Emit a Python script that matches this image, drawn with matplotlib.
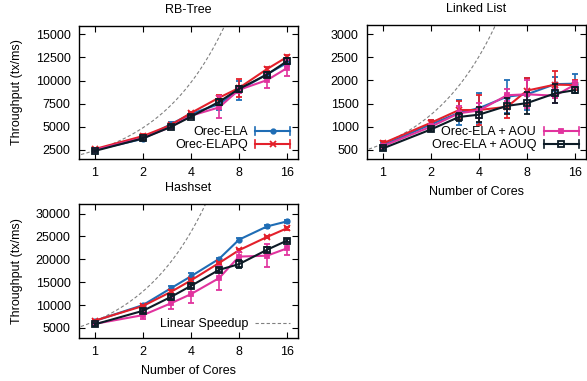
import numpy as np
import matplotlib
matplotlib.use("Agg")
import matplotlib.pyplot as plt
from matplotlib.legend_handler import HandlerBase
from matplotlib.lines import Line2D

plt.rcParams['font.family'] = ['Liberation Sans', 'DejaVu Sans']
plt.rcParams['font.size'] = 9

cores = [1, 2, 3, 4, 6, 8, 12, 16]

# RB-Tree
rb_ela = [2500, 3700, 5300, 6400, 7450, 8950, 10700, 11900]
rb_ela_err = [150, 250, 200, 200, 600, 1000, 300, 300]
rb_elapq = [2600, 4000, 5200, 6500, 8150, 9200, 11250, 12550]
rb_elapq_err = [100, 200, 150, 150, 250, 1000, 250, 250]
rb_aou = [2500, 3800, 5000, 6200, 7100, 9000, 10050, 11350]
rb_aou_err = [150, 150, 200, 200, 1200, 300, 800, 900]
rb_aouq = [2400, 3750, 5000, 6100, 7700, 9100, 10650, 12100]
rb_aouq_err = [100, 150, 150, 150, 300, 300, 300, 300]

# Linked List
ll_ela = [600, 1050, 1300, 1400, 1650, 1700, 1920, 1930]
ll_ela_err = [40, 100, 270, 330, 360, 350, 150, 200]
ll_elapq = [640, 1085, 1360, 1360, 1430, 1780, 1910, 1900]
ll_elapq_err = [40, 60, 200, 320, 250, 280, 290, 100]
ll_aou = [580, 1000, 1290, 1350, 1680, 1700, 1670, 1910]
ll_aou_err = [30, 50, 150, 170, 130, 300, 150, 80]
ll_aouq = [530, 940, 1210, 1260, 1450, 1510, 1720, 1790]
ll_aouq_err = [30, 40, 80, 170, 170, 230, 200, 60]

# Hashset
hs_ela = [6540, 10000, 13700, 16300, 20100, 24300, 27200, 28300]
hs_ela_err = [200, 300, 400, 800, 300, 300, 300, 300]
hs_elapq = [6600, 9800, 12900, 15400, 19200, 22000, 24900, 26800]
hs_elapq_err = [200, 300, 300, 300, 300, 300, 300, 300]
hs_aou = [5900, 7800, 10400, 12400, 15900, 20600, 20800, 22400]
hs_aou_err = [300, 800, 1300, 1900, 2600, 900, 2500, 1400]
hs_aouq = [5800, 8750, 11800, 14200, 17700, 18950, 22100, 24100]
hs_aouq_err = [300, 400, 400, 400, 500, 800, 500, 400]

# Linear speedup base (throughput at 1 core)
speedup_base = [2450, 630, 6500]

series_names = ["Orec-ELA", "Orec-ELAPQ", "Orec-ELA + AOU", "Orec-ELA + AOUQ"]
colors = ["#1f6db5", "#e3202b", "#e1339e", "#0c1b26"]
markers = ["o", "x", "s", "s"]
mfcs = ["#1f6db5", "#e3202b", "#e1339e", "none"]
msizes = [3.2, 4.5, 3.5, 5.0]

W, H = 587, 381
fig = plt.figure(figsize=(W / 100, H / 100), dpi=100)


def ax_rect(l, r, t, b):
    return [l / W, 1 - b / H, (r - l) / W, (b - t) / H]


ax1 = fig.add_axes(ax_rect(79, 298, 26, 159))
ax2 = fig.add_axes(ax_rect(367, 586, 25, 159))
ax3 = fig.add_axes(ax_rect(79, 298, 204, 338))


class HBarHandler(HandlerBase):
    def create_artists(self, legend, orig_handle, xdescent, ydescent,
                       width, height, fontsize, trans):
        c, m, mfc, ms, dashed = orig_handle
        y = height / 2 - ydescent
        x0, x1 = -xdescent, -xdescent + width
        arts = []
        if dashed:
            ln = Line2D([x0, x1], [y, y], color=c, lw=0.8, ls=(0, (3, 2)))
            ln.set_transform(trans)
            return [ln]
        ln = Line2D([x0, x1], [y, y], color=c, lw=1.5)
        ln.set_transform(trans)
        arts.append(ln)
        for xx in (x0, x1):
            cap = Line2D([xx, xx], [y - 3, y + 3], color=c, lw=1.2)
            cap.set_transform(trans)
            arts.append(cap)
        mk = Line2D([(x0 + x1) / 2], [y], color=c, marker=m, mfc=mfc,
                    mec=c, ms=ms, mew=1.3, ls="none")
        mk.set_transform(trans)
        arts.append(mk)
        return arts


def draw(ax, data, errs, base):
    x = np.array(cores, dtype=float)
    xs = np.geomspace(0.7, 20, 200)
    ax.plot(xs, base * xs, color="#808080", lw=0.8, ls=(0, (3, 2)), zorder=1)
    for i, (d, e) in enumerate(zip(data, errs)):
        ax.errorbar(x, d, yerr=e, color=colors[i], lw=1.5, marker=markers[i],
                    mfc=mfcs[i], mec=colors[i], ms=msizes[i], mew=1.3,
                    capsize=2.5, elinewidth=1.2, capthick=1.2, zorder=2 + i)
    ax.set_xscale("log", base=2)
    ax.set_xlim(0.794, 18.75)
    ax.set_xticks([1, 2, 4, 8, 16])
    ax.set_xticklabels(["1", "2", "4", "8", "16"])
    ax.minorticks_off()
    ax.tick_params(direction="in", top=True, right=True, length=4,
                   width=0.8, labelsize=9, pad=6)
    for s in ax.spines.values():
        s.set_linewidth(1.0)


draw(ax1, [rb_ela, rb_elapq, rb_aou, rb_aouq],
     [rb_ela_err, rb_elapq_err, rb_aou_err, rb_aouq_err], speedup_base[0])
ax1.set_ylim(1520, 15900)
ax1.set_yticks([2500, 5000, 7500, 10000, 12500, 15000])
ax1.set_title("RB-Tree", fontsize=9, pad=9)
ax1.set_xlabel("Hashset", fontsize=9, labelpad=2)
ax1.set_ylabel("Throughput (tx/ms)", fontsize=9, labelpad=9)

draw(ax2, [ll_ela, ll_elapq, ll_aou, ll_aouq],
     [ll_ela_err, ll_elapq_err, ll_aou_err, ll_aouq_err], speedup_base[1])
ax2.set_ylim(300, 3200)
ax2.set_yticks([500, 1000, 1500, 2000, 2500, 3000])
ax2.set_title("Linked List", fontsize=9, pad=9)
ax2.set_xlabel("Number of Cores", fontsize=9, labelpad=5)

draw(ax3, [hs_ela, hs_elapq, hs_aou, hs_aouq],
     [hs_ela_err, hs_elapq_err, hs_aou_err, hs_aouq_err], speedup_base[2])
ax3.set_ylim(2800, 32100)
ax3.set_yticks([5000, 10000, 15000, 20000, 25000, 30000])
ax3.set_xlabel("Number of Cores", fontsize=9, labelpad=5)
ax3.set_ylabel("Throughput (tx/ms)", fontsize=9, labelpad=9)

leg_kw = dict(loc="lower right", frameon=False, markerfirst=False,
              handlelength=2.8, handletextpad=0.6, labelspacing=0.1,
              borderaxespad=0.4, borderpad=0.2, fontsize=9,
              handler_map={tuple: HBarHandler()})

h1 = [(colors[i], markers[i], mfcs[i], msizes[i], False) for i in (0, 1)]
ax1.legend(h1, series_names[0:2], **leg_kw)
h2 = [(colors[i], markers[i], mfcs[i], msizes[i], False) for i in (2, 3)]
ax2.legend(h2, series_names[2:4], **leg_kw)
h3 = [("#808080", None, None, 0, True)]
ax3.legend(h3, ["Linear Speedup"], **leg_kw)

fig.savefig("out.png", dpi=100)
